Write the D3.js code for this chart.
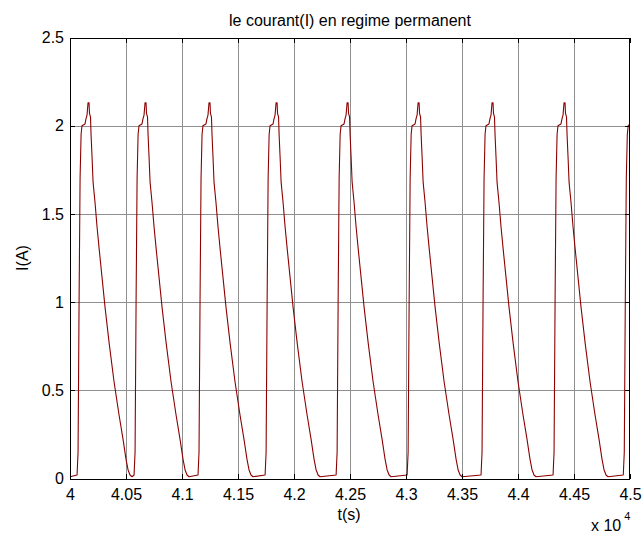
<!DOCTYPE html>
<html>
<head>
<meta charset="utf-8">
<script src="https://cdn.jsdelivr.net/npm/d3@7"></script>
<style>
  html, body { margin: 0; padding: 0; background: #fff; }
  svg { display: block; }
  text { font-family: "Liberation Sans", Arial, sans-serif; }
</style>
</head>
<body>
<svg id="chart" width="643" height="534"></svg>
<script>
// ---- data ----
const title = "le courant(I) en regime permanent";
const xLabel = "t(s)";
const yLabel = "I(A)";
const xTicks = [40000, 40500, 41000, 41500, 42000, 42500, 43000, 43500, 44000, 44500, 45000];
const yTicks = [0, 0.5, 1, 1.5, 2, 2.5];

const time = [
  40000,
  40063, 40072, 40081, 40090, 40099, 40107, 40134, 40143, 40152, 40161, 40170, 40174, 40183, 40188, 40197, 40206, 40224, 40241, 40259, 40286, 40313, 40349, 40393, 40438, 40474, 40500, 40518, 40536, 40554,
  40572, 40581, 40590, 40599, 40608, 40616, 40643, 40652, 40661, 40670, 40679, 40683, 40692, 40697, 40706, 40715, 40733, 40750, 40768, 40795, 40822, 40858, 40902, 40947, 40983, 41009, 41027, 41045, 41063,
  41143, 41152, 41161, 41170, 41179, 41187, 41214, 41223, 41232, 41241, 41250, 41254, 41263, 41268, 41277, 41286, 41304, 41321, 41339, 41366, 41393, 41429, 41473, 41518, 41554, 41580, 41598, 41616, 41634,
  41742, 41751, 41760, 41769, 41778, 41786, 41813, 41822, 41831, 41840, 41849, 41853, 41862, 41867, 41876, 41885, 41903, 41920, 41938, 41965, 41992, 42028, 42072, 42117, 42153, 42179, 42197, 42215, 42233,
  42376, 42385, 42394, 42403, 42412, 42420, 42447, 42456, 42465, 42474, 42483, 42487, 42496, 42501, 42510, 42519, 42537, 42554, 42572, 42599, 42626, 42662, 42706, 42751, 42787, 42813, 42831, 42849, 42867,
  43010, 43019, 43028, 43037, 43046, 43054, 43081, 43090, 43099, 43108, 43117, 43121, 43130, 43135, 43144, 43153, 43171, 43188, 43206, 43233, 43260, 43296, 43340, 43385, 43421, 43447, 43465, 43483, 43501,
  43670, 43679, 43688, 43697, 43706, 43714, 43741, 43750, 43759, 43768, 43777, 43781, 43790, 43795, 43804, 43813, 43831, 43848, 43866, 43893, 43920, 43956, 44000, 44045, 44081, 44107, 44125, 44143, 44161,
  44313, 44322, 44331, 44340, 44349, 44357, 44384, 44393, 44402, 44411, 44420, 44424, 44433, 44438, 44447, 44456, 44474, 44491, 44509, 44536, 44563, 44599, 44643, 44688, 44724, 44750, 44768, 44786, 44804,
  44940, 44949, 44958, 44967, 44976, 44984, 45000
];
const current = [
  0.01,
  0.02, 0.15, 1.00, 1.70, 1.95, 2.00, 2.01, 2.04, 2.06, 2.13, 2.13, 2.07, 2.05, 1.95, 1.82, 1.68, 1.56, 1.43, 1.31, 1.14, 0.97, 0.77, 0.55, 0.36, 0.22, 0.11, 0.05, 0.02, 0.01,
  0.02, 0.15, 1.00, 1.70, 1.95, 2.00, 2.01, 2.04, 2.06, 2.13, 2.13, 2.07, 2.05, 1.95, 1.82, 1.68, 1.56, 1.43, 1.31, 1.14, 0.97, 0.77, 0.55, 0.36, 0.22, 0.11, 0.05, 0.02, 0.01,
  0.02, 0.15, 1.00, 1.70, 1.95, 2.00, 2.01, 2.04, 2.06, 2.13, 2.13, 2.07, 2.05, 1.95, 1.82, 1.68, 1.56, 1.43, 1.31, 1.14, 0.97, 0.77, 0.55, 0.36, 0.22, 0.11, 0.05, 0.02, 0.01,
  0.02, 0.15, 1.00, 1.70, 1.95, 2.00, 2.01, 2.04, 2.06, 2.13, 2.13, 2.07, 2.05, 1.95, 1.82, 1.68, 1.56, 1.43, 1.31, 1.14, 0.97, 0.77, 0.55, 0.36, 0.22, 0.11, 0.05, 0.02, 0.01,
  0.02, 0.15, 1.00, 1.70, 1.95, 2.00, 2.01, 2.04, 2.06, 2.13, 2.13, 2.07, 2.05, 1.95, 1.82, 1.68, 1.56, 1.43, 1.31, 1.14, 0.97, 0.77, 0.55, 0.36, 0.22, 0.11, 0.05, 0.02, 0.01,
  0.02, 0.15, 1.00, 1.70, 1.95, 2.00, 2.01, 2.04, 2.06, 2.13, 2.13, 2.07, 2.05, 1.95, 1.82, 1.68, 1.56, 1.43, 1.31, 1.14, 0.97, 0.77, 0.55, 0.36, 0.22, 0.11, 0.05, 0.02, 0.01,
  0.02, 0.15, 1.00, 1.70, 1.95, 2.00, 2.01, 2.04, 2.06, 2.13, 2.13, 2.07, 2.05, 1.95, 1.82, 1.68, 1.56, 1.43, 1.31, 1.14, 0.97, 0.77, 0.55, 0.36, 0.22, 0.11, 0.05, 0.02, 0.01,
  0.02, 0.15, 1.00, 1.70, 1.95, 2.00, 2.01, 2.04, 2.06, 2.13, 2.13, 2.07, 2.05, 1.95, 1.82, 1.68, 1.56, 1.43, 1.31, 1.14, 0.97, 0.77, 0.55, 0.36, 0.22, 0.11, 0.05, 0.02, 0.01,
  0.02, 0.15, 1.00, 1.70, 1.95, 2.00, 2.01
];

// ---- layout ----
const W = 643, H = 534;
const margin = { left: 70, right: 13, top: 37.5, bottom: 55.5 };
const pw = W - margin.left - margin.right;
const ph = H - margin.top - margin.bottom;
const FS = 16;

const svg = d3.select("#chart");
svg.append("rect").attr("width", W).attr("height", H).attr("fill", "#fff");

const x = d3.scaleLinear().domain([40000, 45000]).range([margin.left, margin.left + pw]);
const y = d3.scaleLinear().domain([0, 2.5]).range([margin.top + ph, margin.top]);

const fmtX = d => String(+(d / 1e4).toFixed(2));
const fmtY = d => String(d);

// grid
const grid = svg.append("g").attr("shape-rendering", "crispEdges");
grid.selectAll(".gx").data(xTicks.slice(1, -1)).join("line")
  .attr("x1", d => Math.round(x(d)) + 0.5).attr("x2", d => Math.round(x(d)) + 0.5)
  .attr("y1", margin.top).attr("y2", margin.top + ph)
  .attr("stroke", "#8f8f8f").attr("stroke-width", 1);
grid.selectAll(".gy").data(yTicks.slice(1, -1)).join("line")
  .attr("y1", d => Math.round(y(d)) + 0.5).attr("y2", d => Math.round(y(d)) + 0.5)
  .attr("x1", margin.left).attr("x2", margin.left + pw)
  .attr("stroke", "#8f8f8f").attr("stroke-width", 1);

// series
const pts = time.map((t, i) => [t, current[i]]);
const line = d3.line().x(d => x(d[0])).y(d => y(d[1]));
svg.append("defs").append("clipPath").attr("id", "clip")
  .append("rect").attr("x", margin.left).attr("y", margin.top).attr("width", pw).attr("height", ph);
svg.append("path").datum(pts)
  .attr("clip-path", "url(#clip)")
  .attr("d", line)
  .attr("fill", "none")
  .attr("stroke", "#8b0000")
  .attr("stroke-width", 1.1)
  .attr("stroke-linejoin", "round");

// axes (ticks inward)
const axB = svg.append("g").attr("transform", `translate(0,${margin.top + ph})`)
  .call(d3.axisBottom(x).tickValues(xTicks).tickFormat(fmtX).tickSizeInner(-5).tickSizeOuter(0).tickPadding(10));
const axL = svg.append("g").attr("transform", `translate(${margin.left},0)`)
  .call(d3.axisLeft(y).tickValues(yTicks).tickFormat(fmtY).tickSizeInner(-5).tickSizeOuter(0).tickPadding(6));
const axT = svg.append("g").attr("transform", `translate(0,${margin.top})`)
  .call(d3.axisTop(x).tickValues(xTicks).tickFormat("").tickSizeInner(-5).tickSizeOuter(0));
const axR = svg.append("g").attr("transform", `translate(${margin.left + pw},0)`)
  .call(d3.axisRight(y).tickValues(yTicks).tickFormat("").tickSizeInner(-5).tickSizeOuter(0));
[axB, axL, axT, axR].forEach(g => {
  g.select(".domain").remove();
  g.selectAll("line").attr("stroke", "#000").attr("shape-rendering", "crispEdges");
  g.selectAll("text").attr("font-size", FS).attr("fill", "#000")
    .attr("font-family", "'Liberation Sans', Arial, sans-serif");
});
axB.selectAll("text").attr("dy", "0.71em");

// box
svg.append("rect")
  .attr("x", margin.left + 0.5).attr("y", Math.round(margin.top) + 0.5)
  .attr("width", pw - 1).attr("height", Math.round(ph))
  .attr("fill", "none").attr("stroke", "#000").attr("stroke-width", 1)
  .attr("shape-rendering", "crispEdges");

// labels
svg.append("text").attr("x", margin.left + pw / 2).attr("y", 26)
  .attr("text-anchor", "middle").attr("font-size", FS).text(title);
svg.append("text").attr("x", margin.left + pw / 2 - 1).attr("y", 520)
  .attr("text-anchor", "middle").attr("font-size", FS).text(xLabel);
svg.append("text").attr("transform", `translate(28,${margin.top + ph / 2}) rotate(-90)`)
  .attr("text-anchor", "middle").attr("font-size", FS).text(yLabel);
const exp = svg.append("text").attr("x", 591).attr("y", 531).attr("font-size", FS);
exp.append("tspan").text("x 10");
exp.append("tspan").attr("dx", 3).attr("dy", -11).attr("font-size", 11).text("4");
</script>
</body>
</html>
